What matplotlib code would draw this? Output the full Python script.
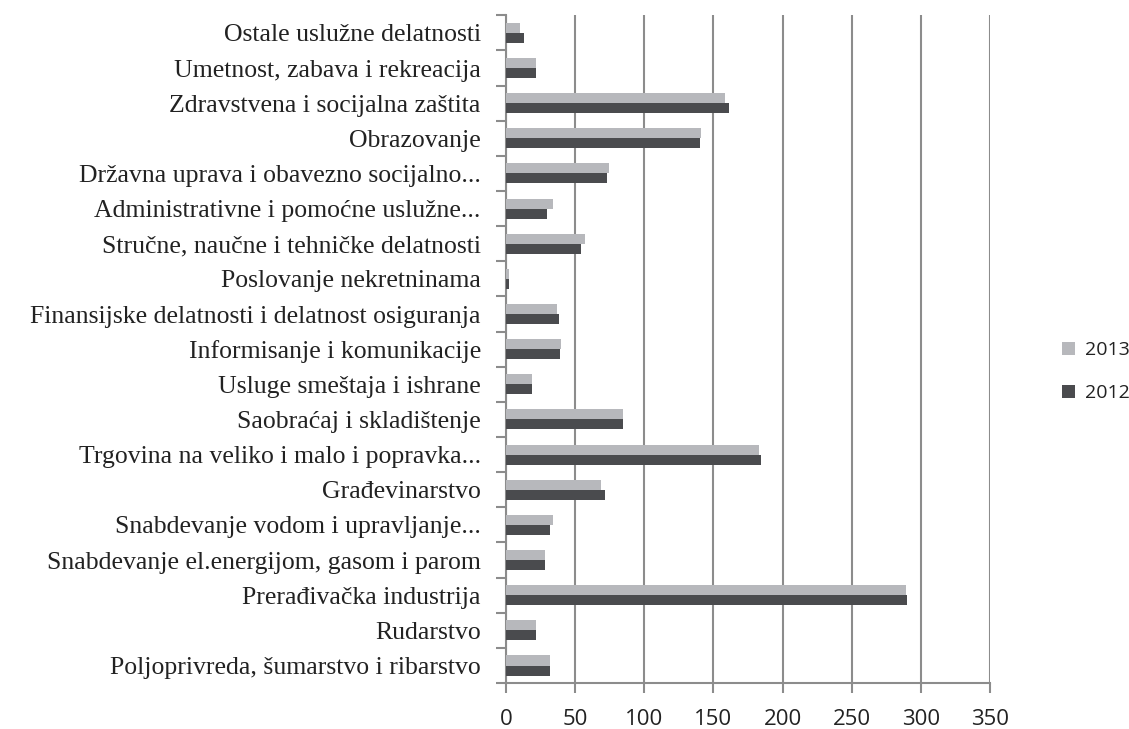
import matplotlib.pyplot as plt
import numpy as np

# categories, bottom to top
categories = [
    "Poljoprivreda, šumarstvo i ribarstvo",
    "Rudarstvo",
    "Prerađivačka industrija",
    "Snabdevanje el.energijom, gasom i parom",
    "Snabdevanje vodom i upravljanje...",
    "Građevinarstvo",
    "Trgovina na veliko i malo i popravka...",
    "Saobraćaj i skladištenje",
    "Usluge smeštaja i ishrane",
    "Informisanje i komunikacije",
    "Finansijske delatnosti i delatnost osiguranja",
    "Poslovanje nekretninama",
    "Stručne, naučne i tehničke delatnosti",
    "Administrativne i pomoćne uslužne...",
    "Državna uprava i obavezno socijalno...",
    "Obrazovanje",
    "Zdravstvena i socijalna zaštita",
    "Umetnost, zabava i rekreacija",
    "Ostale uslužne delatnosti",
]
values_2013 = [32, 22, 289, 28, 34, 68.5, 183, 84.5, 19, 40, 37, 2, 57, 34, 74.5, 141, 158.5, 22, 10.5]
values_2012 = [32, 22, 290, 28, 32, 71.5, 184.5, 84.5, 19, 39.5, 38.5, 2, 54, 29.5, 73, 140, 161, 22, 13.5]

color_2013 = "#b7b8bc"
color_2012 = "#4a4b4e"
axis_gray = "#8c8c8c"

fig = plt.figure(figsize=(11.29, 7.29), dpi=100)
ax = fig.add_axes([0.448, 0.063, 0.429, 0.916])

y = np.arange(len(categories))
h = 0.285
ax.barh(y + h / 2, values_2013, height=h, color=color_2013, label="2013", zorder=3)
ax.barh(y - h / 2, values_2012, height=h, color=color_2012, label="2012", zorder=3)

ax.set_xlim(0, 350)
ax.set_ylim(-0.5, len(categories) - 0.5)
ax.set_xticks(np.arange(0, 351, 50))
ax.xaxis.grid(True, color=axis_gray, linewidth=1.5, zorder=0)

# category labels centred, tick marks on category boundaries
ax.set_yticks(y)
ax.set_yticklabels(categories, fontfamily="Liberation Serif", fontsize=18.5, color="#222222")
ax.tick_params(axis="y", length=0, pad=18)
ax.set_yticks(np.arange(-0.5, len(categories), 1), minor=True)
ax.tick_params(axis="y", which="minor", length=7, width=1.5, color=axis_gray)

ax.tick_params(axis="x", length=7, width=1.5, color=axis_gray, labelsize=16, pad=12,
               labelcolor="#222222")
for lab in ax.get_xticklabels():
    lab.set_fontfamily("Open Sans")

for s in ["top", "right"]:
    ax.spines[s].set_visible(False)
ax.spines["left"].set_color(axis_gray)
ax.spines["left"].set_linewidth(1.5)
ax.spines["bottom"].set_color(axis_gray)
ax.spines["bottom"].set_linewidth(1.5)

leg = fig.legend(loc="center left", bbox_to_anchor=(0.925, 0.49), frameon=False,
                 prop={"family": "Open Sans", "size": 14}, handlelength=0.7,
                 handleheight=0.7, labelspacing=1.3, handletextpad=0.5)
for t in leg.get_texts():
    t.set_color("#222222")

fig.savefig("out.png", dpi=100)
